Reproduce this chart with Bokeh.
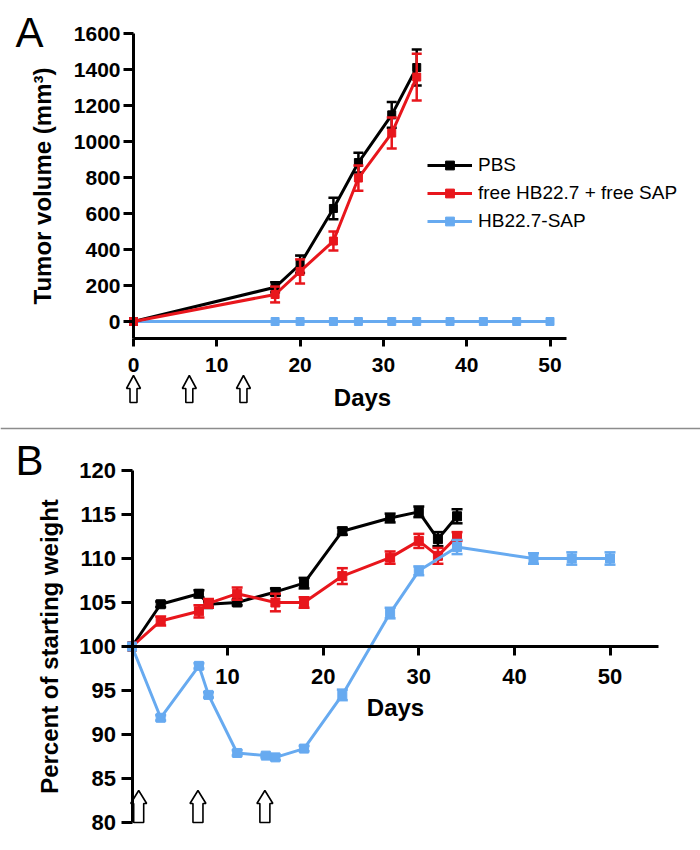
from bokeh.plotting import figure
from bokeh.models import Range1d, FixedTicker, Legend, LegendItem, Span, ColumnDataSource, LinearAxis
from bokeh.layouts import column
from bokeh.embed import file_html
from bokeh.resources import INLINE
from bokeh.core.properties import value

# ---------------- data ----------------
series_names = ["PBS", "free HB22.7 + free SAP", "HB22.7-SAP"]

# Panel A: tumor volume (mm^3)
days_a_pbs = [0, 17, 20, 24, 27, 31, 34]
vol_pbs = [0, 190, 318, 628, 883, 1148, 1411]
sem_vol_pbs = [0, 28, 48, 60, 55, 72, 100]

days_a_free = [0, 17, 20, 24, 27, 31, 34]
vol_free = [0, 150, 278, 447, 797, 1047, 1358]
sem_vol_free = [0, 44, 67, 53, 70, 86, 130]

days_a_hb = [0, 17, 20, 24, 27, 31, 34, 38, 42, 46, 50]
vol_hb = [0, 0, 0, 0, 0, 0, 0, 0, 0, 0, 0]
sem_vol_hb = [0, 0, 0, 0, 0, 0, 0, 0, 0, 0, 0]

# Panel B: percent of starting weight
days_b_pbs = [0, 3, 7, 8, 11, 15, 18, 22, 27, 30, 32, 34]
wt_pbs = [100, 104.8, 106.0, 104.8, 105.0, 106.2, 107.2, 113.1, 114.6, 115.3, 112.2, 114.8]
sem_wt_pbs = [0, 0.3, 0.4, 0.3, 0.3, 0.4, 0.6, 0.4, 0.5, 0.6, 0.8, 0.8]

days_b_free = [0, 3, 7, 8, 11, 15, 18, 22, 27, 30, 32, 34]
wt_free = [100, 102.9, 104.0, 104.9, 106.0, 105.0, 105.0, 108.0, 110.1, 112.0, 110.3, 112.5]
sem_wt_free = [0, 0.5, 0.7, 0.5, 0.7, 1.0, 0.6, 0.9, 0.7, 0.8, 0.9, 0.5]

days_b_hb = [0, 3, 7, 8, 11, 14, 15, 18, 22, 27, 30, 34, 42, 46, 50]
wt_hb = [100, 91.9, 97.8, 94.5, 87.9, 87.6, 87.4, 88.4, 94.5, 103.8, 108.6, 111.3, 110.0, 110.0, 110.0]
sem_wt_hb = [0, 0.3, 0.3, 0.3, 0.3, 0.2, 0.3, 0.3, 0.6, 0.6, 0.5, 0.8, 0.6, 0.7, 0.7]

# treatment days (arrows), as drawn in each panel
dose_days_a = [0, 6.7, 13.2]
dose_days_b = [0.7, 6.9, 13.9]

a_xticks = [0, 10, 20, 30, 40, 50]
a_yticks = [0, 200, 400, 600, 800, 1000, 1200, 1400, 1600]
b_xticks = [10, 20, 30, 40, 50]
b_yticks = [80, 85, 90, 95, 100, 105, 110, 115, 120]

# ---------------- style / geometry ----------------
FONT = "Liberation Sans"
BLACK = "#000000"
RED = "#e8161c"
BLUE = "#67aaf0"
W = 700
HA, HB = 430, 418

# panel A pixel geometry (figure-local pixels)
AX0, AKX = 133.0, 8.33     # x pixel of day 0, px per day
AY0, AKY = 321.0, 0.18     # y pixel of volume 0, px per mm3
# panel B pixel geometry (figure-local pixels)
BX0, BKX = 131.5, 9.56
BY0, BKY = 216.0, 8.8      # y pixel of 100 %


def ax_(px): return (px - AX0) / AKX
def ay_(py): return (AY0 - py) / AKY
def bx_(px): return (px - BX0) / BKX
def by_(py): return 100 + (BY0 - py) / BKY


def style_axis(ax, size, tick_out, standoff):
    ax.axis_line_width = 3
    ax.axis_line_color = "black"
    ax.major_tick_line_width = 3
    ax.major_tick_line_color = "black"
    ax.major_tick_in = 0
    ax.major_tick_out = tick_out
    ax.minor_tick_line_color = None
    ax.major_label_standoff = standoff
    ax.major_label_text_font = FONT
    ax.major_label_text_font_style = "bold"
    ax.major_label_text_font_size = size
    ax.major_label_text_color = "black"
    ax.axis_label_text_font = FONT
    ax.axis_label_text_font_style = "bold"
    ax.axis_label_text_font_size = "24px"
    ax.axis_label_text_color = "black"


def draw_series(p, x, y, err, color, size, cap):
    src = ColumnDataSource(dict(x=x, y=y))
    ex = [a for a, e in zip(x, err) if e > 0]
    lo = [b - e for b, e in zip(y, err) if e > 0]
    hi = [b + e for b, e in zip(y, err) if e > 0]
    esrc = ColumnDataSource(dict(x=ex, lo=lo, hi=hi))
    ln = p.line("x", "y", source=src, line_color=color, line_width=3)
    p.segment(x0="x", y0="lo", x1="x", y1="hi", source=esrc, line_color=color, line_width=2.5)
    p.scatter("x", "lo", source=esrc, marker="dash", size=cap, line_color=color, line_width=2.5)
    p.scatter("x", "hi", source=esrc, marker="dash", size=cap, line_color=color, line_width=2.5)
    mk = p.scatter("x", "y", source=src, marker="square", size=size, fill_color=color, line_color=color)
    return ln, mk


def arrow_polys(days, hw_head, hw_shaft, y_bot, y_top, y_neck):
    xs, ys = [], []
    for c in days:
        xs.append([c - hw_shaft, c + hw_shaft, c + hw_shaft, c + hw_head, c,
                   c - hw_head, c - hw_shaft])
        ys.append([y_bot, y_bot, y_neck, y_neck, y_top, y_neck, y_neck])
    return xs, ys


def text(p, x, y, s, size, bold=True, align="center", baseline="middle"):
    p.text(x=[x], y=[y], text=[s], text_align=align, text_baseline=baseline,
           text_font=value(FONT), text_font_style="bold" if bold else "normal",
           text_font_size=size, text_color="black")


# ---------------- panel A ----------------
pa = figure(width=W, height=HA, x_range=Range1d(ax_(0), ax_(W)), y_range=Range1d(ay_(HA), ay_(0)),
            x_axis_location=None, y_axis_location=None, toolbar_location=None,
            output_backend="svg", min_border=0)
pa.outline_line_color = None
pa.grid.visible = False

a_xaxis_y = ay_(338)
ya = LinearAxis(fixed_location=0, bounds=(a_xaxis_y, 1600), ticker=FixedTicker(ticks=a_yticks),
                axis_label="Tumor volume (mm³)")
style_axis(ya, "21px", 10, 3)
ya.axis_label_standoff = 15
pa.add_layout(ya, "left")
xa = LinearAxis(fixed_location=a_xaxis_y, bounds=(0, 52), ticker=FixedTicker(ticks=a_xticks))
style_axis(xa, "21px", 8, 11)
pa.add_layout(xa, "below")

hb_a = draw_series(pa, days_a_hb, vol_hb, sem_vol_hb, BLUE, 8, 10)
pbs_a = draw_series(pa, days_a_pbs, vol_pbs, sem_vol_pbs, BLACK, 8, 10)
free_a = draw_series(pa, days_a_free, vol_free, sem_vol_free, RED, 8, 10)

legend = Legend(items=[LegendItem(label=series_names[0], renderers=list(pbs_a)),
                       LegendItem(label=series_names[1], renderers=list(free_a)),
                       LegendItem(label=series_names[2], renderers=list(hb_a))],
                location=(427, HA - 232), border_line_color=None, background_fill_alpha=0,
                padding=0, margin=0, spacing=6, glyph_width=45, glyph_height=22,
                label_height=22, label_standoff=6, label_text_font=FONT,
                label_text_font_size="19px", label_text_color="black")
pa.add_layout(legend)

# dose arrows and x-axis title under panel A
axs, ays = arrow_polys(dose_days_a, 7 / AKX, 3.5 / AKX, ay_(402), ay_(375), ay_(388))
pa.patches(axs, ays, fill_color="white", line_color="black", line_width=1.6)
text(pa, ax_(362), ay_(397), "Days", "24px")
text(pa, ax_(15), ay_(32), "A", "42px", bold=False, align="left", baseline="alphabetic")

# divider between panels
pa.add_layout(Span(location=ay_(428), dimension="width", line_color="#8c8c8c", line_width=1.5))

# ---------------- panel B ----------------
pb = figure(width=W, height=HB, x_range=Range1d(bx_(0), bx_(W)), y_range=Range1d(by_(HB), by_(0)),
            x_axis_location=None, y_axis_location=None, toolbar_location=None,
            output_backend="svg", min_border=0)
pb.outline_line_color = None
pb.grid.visible = False

yb = LinearAxis(fixed_location=0, bounds=(80, 120), ticker=FixedTicker(ticks=b_yticks),
                axis_label="Percent of starting weight")
style_axis(yb, "22px", 11, 5)
yb.axis_label_standoff = 14
pb.add_layout(yb, "left")
xb = LinearAxis(fixed_location=100, bounds=(0, bx_(658)), ticker=FixedTicker(ticks=b_xticks),
                axis_label="Days")
style_axis(xb, "22px", 9, 13)
xb.axis_label_standoff = 7
pb.add_layout(xb, "below")

draw_series(pb, days_b_pbs, wt_pbs, sem_wt_pbs, BLACK, 9, 11)
draw_series(pb, days_b_free, wt_free, sem_wt_free, RED, 9, 11)
draw_series(pb, days_b_hb, wt_hb, sem_wt_hb, BLUE, 9, 11)

bxs, bys = arrow_polys(dose_days_b, 8 / BKX, 5 / BKX, 80, by_(360), by_(373))
pb.patches(bxs, bys, fill_color="white", line_color="black", line_width=1.6)
text(pb, bx_(15), by_(30), "B", "42px", bold=False, align="left", baseline="alphabetic")

layout = column(pa, pb)
open("out.html", "w").write(file_html(layout, INLINE))
